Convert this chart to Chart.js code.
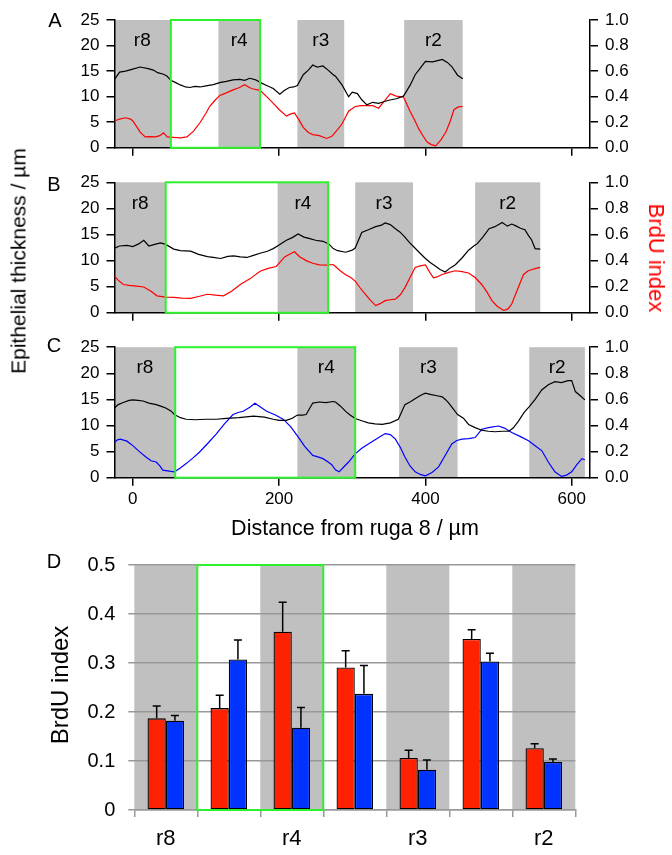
<!DOCTYPE html>
<html>
<head>
<meta charset="utf-8">
<script src="https://cdn.jsdelivr.net/npm/chart.js@4.4.0/dist/chart.umd.min.js"></script>
<style>
  body { margin: 0; background: #fff; }
  #page { position: relative; width: 672px; height: 855px; font-family: 'Liberation Sans', Arial, sans-serif; color: #000; overflow: hidden; }
  canvas { position: absolute; left: 0; }
  .t { position: absolute; white-space: nowrap; line-height: 1; transform: translate(-50%, -50%); }
  .up { transform: translate(-50%, -50%) rotate(-90deg); }
  .down { transform: translate(-50%, -50%) rotate(90deg); }
</style>
</head>
<body>
<div id="page">
  <canvas id="chartA" width="672" height="165" style="top:0px"></canvas>
  <canvas id="chartB" width="672" height="165" style="top:165px"></canvas>
  <canvas id="chartC" width="672" height="180" style="top:330px"></canvas>
  <canvas id="chartD" width="672" height="315" style="top:540px"></canvas>

  <div class="t" style="left:55px; top:20px; font-size:20px">A</div>
  <div class="t" style="left:54px; top:184px; font-size:20px">B</div>
  <div class="t" style="left:54px; top:345px; font-size:20px">C</div>
  <div class="t" style="left:54px; top:561px; font-size:20px">D</div>

  <div class="t up" style="left:18px; top:261px; font-size:21px">Epithelial thickness / µm</div>
  <div class="t down" style="left:656px; top:258px; font-size:22px; color:#ff0000">BrdU index</div>
  <div class="t" style="left:355px; top:529px; font-size:21.5px">Distance from ruga 8 / µm</div>
  <div class="t up" style="left:60px; top:685px; font-size:24px">BrdU index</div>
</div>

<script>
// Ticks do eixo x dos perfis (µm)
const xTicks = [0, 200, 400, 600];
const bandNames = ['r8', 'r4', 'r3', 'r2'];

// Painel A - espessura (preto) e BrdU (vermelho)
const aThickX = [-25, -18, -10, 0, 10, 21, 28, 34, 42, 47, 52, 58, 65, 72, 78, 85, 92, 100, 110, 120, 128, 137, 146, 153, 160, 168, 174, 183, 192, 201, 207, 214, 220, 225, 233, 240, 246, 252, 260, 267, 274, 277, 286, 295, 300, 307, 313, 320, 328, 336, 343, 350, 360, 370, 379, 386, 393, 400, 410, 418, 423, 430, 436, 444, 451];
const aThick = [13.4, 14.8, 15.0, 15.4, 15.8, 15.5, 15.2, 14.7, 14.4, 14.0, 13.2, 12.8, 12.3, 11.9, 11.8, 12.0, 11.9, 12.1, 12.35, 12.8, 13.0, 13.3, 13.4, 13.2, 13.6, 13.3, 12.8, 12.2, 11.6, 10.5, 11.2, 11.8, 11.9, 12.2, 14.3, 15.2, 16.2, 15.8, 16.0, 15.2, 14.3, 14.0, 12.3, 10.0, 10.9, 10.6, 9.4, 8.4, 8.9, 8.7, 9.0, 9.3, 9.6, 10.1, 12.2, 14.3, 15.6, 16.9, 16.8, 17.1, 17.3, 16.7, 15.9, 14.2, 13.5];
const aBrduX = [-25, -18, -10, -3, 0, 6, 10, 17, 24, 31, 37, 42, 47, 55, 65, 74, 83, 92, 100, 105, 112, 119, 128, 137, 145, 153, 160, 165, 174, 183, 192, 200, 210, 216, 221, 227, 233, 240, 246, 255, 265, 272, 277, 286, 295, 304, 312, 320, 328, 336, 345, 352, 360, 370, 379, 385, 391, 397, 402, 408, 414, 421, 428, 434, 439, 445, 451];
const aBrdu = [0.21, 0.225, 0.235, 0.225, 0.21, 0.16, 0.123, 0.085, 0.088, 0.085, 0.095, 0.118, 0.085, 0.082, 0.077, 0.085, 0.13, 0.198, 0.27, 0.323, 0.37, 0.41, 0.43, 0.453, 0.47, 0.494, 0.47, 0.46, 0.45, 0.40, 0.348, 0.30, 0.248, 0.265, 0.273, 0.22, 0.16, 0.12, 0.103, 0.095, 0.073, 0.09, 0.123, 0.186, 0.286, 0.323, 0.33, 0.33, 0.33, 0.31, 0.374, 0.423, 0.405, 0.398, 0.286, 0.22, 0.148, 0.09, 0.047, 0.025, 0.015, 0.06, 0.123, 0.21, 0.298, 0.32, 0.323];
const aBandStart = [-25, 117, 225, 371];
const aBandEnd = [51, 174, 289, 451];
const aGreen = [52, 174];

// Painel B
const bThickX = [-25, -18, -8, 0, 8, 15, 22, 30, 38, 45, 56, 65, 79, 90, 102, 110, 120, 130, 138, 147, 156, 165, 174, 184, 192, 200, 210, 218, 226, 234, 242, 250, 260, 268, 274, 280, 291, 300, 304, 313, 322, 332, 340, 345, 352, 359, 365, 372, 378, 383, 392, 400, 407, 414, 420, 427, 434, 441, 450, 459, 467, 471, 479, 487, 495, 505, 512, 518, 523, 530, 536, 541, 545, 550, 557];
const bThick = [12.4, 12.8, 12.9, 12.7, 13.2, 13.9, 12.8, 13.1, 13.4, 13.1, 12.2, 11.9, 11.8, 11.2, 10.75, 10.6, 10.4, 10.8, 10.9, 10.7, 10.6, 11.0, 11.4, 11.8, 12.3, 13.0, 13.9, 14.4, 15.1, 14.5, 14.2, 13.9, 13.7, 13.2, 12.3, 11.9, 11.6, 12.0, 12.4, 15.4, 15.9, 16.5, 16.8, 17.2, 16.9, 16.1, 15.5, 14.5, 13.5, 12.8, 11.5, 10.4, 9.6, 8.9, 8.3, 7.8, 8.6, 9.2, 10.5, 12.0, 12.9, 13.25, 14.6, 16.1, 16.5, 17.3, 16.6, 17.0, 16.7, 16.2, 15.9, 14.8, 14.0, 12.3, 12.2];
const bBrduX = [-25, -20, -13, -5, 5, 15, 25, 33, 45, 56, 67, 79, 90, 102, 113, 124, 135, 147, 160, 174, 185, 196, 208, 215, 221, 228, 237, 246, 255, 265, 274, 277, 284, 291, 298, 304, 311, 318, 325, 332, 338, 345, 352, 359, 366, 372, 379, 386, 393, 400, 406, 411, 416, 422, 432, 441, 450, 459, 468, 477, 484, 491, 498, 507, 513, 518, 526, 534, 540, 545, 551, 557];
const bBrdu = [0.28, 0.25, 0.217, 0.21, 0.205, 0.198, 0.165, 0.13, 0.12, 0.118, 0.113, 0.11, 0.125, 0.142, 0.135, 0.13, 0.165, 0.217, 0.26, 0.318, 0.34, 0.355, 0.43, 0.45, 0.468, 0.43, 0.40, 0.38, 0.367, 0.365, 0.37, 0.355, 0.32, 0.292, 0.27, 0.243, 0.19, 0.142, 0.095, 0.055, 0.07, 0.093, 0.1, 0.105, 0.14, 0.193, 0.27, 0.348, 0.36, 0.367, 0.31, 0.268, 0.275, 0.292, 0.31, 0.322, 0.315, 0.305, 0.27, 0.217, 0.16, 0.093, 0.05, 0.018, 0.03, 0.067, 0.18, 0.292, 0.32, 0.33, 0.34, 0.348];
const bBandStart = [-25, 198, 304, 468];
const bBandEnd = [45, 267, 383, 557];
const bGreen = [45, 267];

// Painel C - espessura (preto) e BrdU (azul)
const cThickX = [-25, -20, -13, -5, 0, 7, 14, 22, 32, 38, 45, 52, 57, 65, 73, 85, 100, 114, 128, 145, 165, 180, 192, 200, 210, 218, 225, 232, 237, 246, 255, 264, 274, 277, 284, 291, 297, 304, 313, 322, 331, 341, 352, 363, 372, 380, 388, 395, 400, 408, 416, 423, 428, 432, 438, 444, 452, 459, 468, 477, 486, 495, 505, 514, 520, 527, 535, 542, 550, 559, 568, 577, 586, 595, 600, 605, 611, 618];
const cThick = [13.35, 14.0, 14.4, 14.8, 14.9, 14.8, 14.7, 14.3, 14.0, 13.7, 13.35, 12.8, 12.1, 11.5, 11.2, 11.1, 11.2, 11.2, 11.35, 11.5, 11.8, 11.6, 11.2, 11.0, 11.0, 11.4, 12.0, 12.0, 12.1, 14.3, 14.5, 14.4, 14.6, 14.5, 13.7, 12.7, 12.0, 11.35, 10.9, 10.5, 10.3, 10.2, 10.5, 11.2, 14.0, 14.6, 15.3, 15.9, 16.2, 15.9, 15.7, 15.5, 14.9, 14.3, 13.2, 12.1, 11.4, 10.2, 9.6, 9.1, 8.9, 8.8, 8.9, 8.9, 9.5, 10.8, 12.5, 13.6, 15.0, 16.8, 17.8, 18.4, 18.2, 18.6, 18.6, 16.5, 15.8, 14.9];
const cBrduX = [-25, -21, -17, -8, 0, 9, 18, 25, 32, 37, 41, 50, 57, 65, 73, 82, 91, 102, 114, 125, 137, 144, 151, 160, 167, 175, 183, 195, 206, 216, 225, 235, 246, 253, 260, 267, 272, 277, 282, 288, 295, 304, 313, 322, 334, 345, 352, 359, 366, 372, 379, 386, 393, 400, 409, 418, 427, 436, 443, 450, 459, 468, 477, 488, 500, 508, 518, 530, 541, 550, 559, 568, 577, 586, 593, 600, 607, 614, 618];
const cBrdu = [0.27, 0.29, 0.296, 0.28, 0.246, 0.2, 0.158, 0.13, 0.12, 0.09, 0.058, 0.05, 0.045, 0.075, 0.108, 0.15, 0.195, 0.26, 0.334, 0.41, 0.484, 0.5, 0.509, 0.54, 0.571, 0.54, 0.509, 0.48, 0.447, 0.39, 0.321, 0.24, 0.171, 0.16, 0.146, 0.12, 0.1, 0.06, 0.045, 0.08, 0.12, 0.183, 0.225, 0.259, 0.3, 0.338, 0.33, 0.296, 0.23, 0.158, 0.09, 0.045, 0.025, 0.015, 0.04, 0.083, 0.17, 0.259, 0.285, 0.296, 0.3, 0.308, 0.371, 0.385, 0.396, 0.38, 0.346, 0.315, 0.283, 0.245, 0.208, 0.12, 0.045, 0.01, 0.02, 0.045, 0.1, 0.146, 0.138];
const cBandStart = [-25, 225, 364, 542];
const cBandEnd = [58, 304, 444, 618];
const cGreen = [58, 304];

// Painel D - índice BrdU por região
const dLabels = ['r8', '', 'r4', '', 'r3', '', 'r2'];
const dRed = [0.187, 0.208, 0.364, 0.291, 0.106, 0.349, 0.126];
const dRedErr = [0.025, 0.026, 0.06, 0.034, 0.016, 0.019, 0.009];
const dBlue = [0.182, 0.307, 0.168, 0.237, 0.082, 0.303, 0.098];
const dBlueErr = [0.011, 0.04, 0.041, 0.058, 0.02, 0.017, 0.006];
const dGrey = [true, false, true, false, true, false, true];
const dGreen = [1, 2];

Chart.defaults.font.family = "'Liberation Sans', Arial, sans-serif";
Chart.defaults.color = '#000';

const GREY = '#c0c0c0';
const GREEN = '#2ef02e';

// Faixas cinzas das rugas, rótulos e caixa verde
function bandPlugin(cfg) {
    return {
        id: 'bands',
        beforeDraw(chart) {
            const { ctx, chartArea: a, scales: { x } } = chart;
            ctx.save();
            ctx.fillStyle = GREY;
            cfg.bandStart.forEach((s, i) => {
                const x0 = Math.max(x.getPixelForValue(s), a.left);
                const x1 = Math.min(x.getPixelForValue(cfg.bandEnd[i]), a.right);
                ctx.fillRect(x0, a.top, x1 - x0, a.bottom - a.top);
            });
            ctx.fillStyle = '#000';
            ctx.font = "19px 'Liberation Sans', Arial, sans-serif";
            ctx.textAlign = 'center';
            ctx.textBaseline = 'middle';
            cfg.bandStart.forEach((s, i) => {
                const x0 = Math.max(x.getPixelForValue(s), a.left);
                const x1 = Math.min(x.getPixelForValue(cfg.bandEnd[i]), a.right);
                ctx.fillText(bandNames[i], (x0 + x1) / 2, a.top + 21);
            });
            ctx.restore();
        },
        afterDatasetsDraw(chart) {
            const { ctx, chartArea: a, scales: { x } } = chart;
            const x0 = x.getPixelForValue(cfg.green[0]);
            const x1 = x.getPixelForValue(cfg.green[1]);
            ctx.save();
            ctx.strokeStyle = GREEN;
            ctx.lineWidth = 2;
            ctx.strokeRect(x0, a.top, x1 - x0, a.bottom - a.top);
            ctx.restore();
        }
    };
}

function profileChart(id, cfg) {
    const toPoints = (xs, ys) => xs.map((v, i) => ({ x: v, y: ys[i] }));
    return new Chart(document.getElementById(id), {
        type: 'line',
        data: {
            datasets: [
                { data: toPoints(cfg.thickX, cfg.thick), borderColor: '#000', yAxisID: 'y' },
                { data: toPoints(cfg.brduX, cfg.brdu), borderColor: cfg.color, yAxisID: 'y1' }
            ]
        },
        options: {
            responsive: false,
            animation: false,
            layout: { padding: { top: cfg.padTop, left: 0, right: 0, bottom: 0 } },
            elements: { point: { radius: 0 }, line: { borderWidth: 1.2, tension: 0 } },
            plugins: { legend: { display: false }, tooltip: { enabled: false } },
            scales: {
                x: {
                    type: 'linear',
                    min: -25,
                    max: 625,
                    afterBuildTicks(s) { s.ticks = xTicks.map(v => ({ value: v })); },
                    ticks: { display: cfg.showX, font: { size: 17 }, padding: 3, maxRotation: 0 },
                    grid: { drawOnChartArea: false, tickLength: 8, color: '#000', lineWidth: 1.5 },
                    border: { color: '#000', width: 1.5 },
                    afterFit(s) { s.height = cfg.xHeight; }
                },
                y: {
                    position: 'left',
                    min: 0,
                    max: 25,
                    ticks: { stepSize: 5, font: { size: 17 }, padding: 7 },
                    grid: { drawOnChartArea: false, tickLength: 8, color: '#000', lineWidth: 1.5 },
                    border: { color: '#000', width: 1.5 },
                    afterFit(s) { s.width = 114.5; }
                },
                y1: {
                    position: 'right',
                    min: 0,
                    max: 1,
                    ticks: { stepSize: 0.2, font: { size: 17 }, padding: 7, callback: v => v.toFixed(1) },
                    grid: { drawOnChartArea: false, tickLength: 8, color: '#000', lineWidth: 1.5 },
                    border: { color: '#000', width: 1.5 },
                    afterFit(s) { s.width = 82; }
                }
            }
        },
        plugins: [bandPlugin(cfg)]
    });
}

profileChart('chartA', {
    thickX: aThickX, thick: aThick, brduX: aBrduX, brdu: aBrdu, color: '#ff0000',
    bandStart: aBandStart, bandEnd: aBandEnd, green: aGreen,
    padTop: 20, xHeight: 12, showX: false
});
profileChart('chartB', {
    thickX: bThickX, thick: bThick, brduX: bBrduX, brdu: bBrdu, color: '#ff0000',
    bandStart: bBandStart, bandEnd: bBandEnd, green: bGreen,
    padTop: 17.3, xHeight: 14.3, showX: false
});
profileChart('chartC', {
    thickX: cThickX, thick: cThick, brduX: cBrduX, brdu: cBrdu, color: '#0000ff',
    bandStart: cBandStart, bandEnd: cBandEnd, green: cGreen,
    padTop: 14.7, xHeight: 32.3, showX: true
});

// Painel D: faixas, barras de erro e caixa verde
const barPlugin = {
    id: 'barExtras',
    beforeDraw(chart) {
        const { ctx, chartArea: a, scales: { x } } = chart;
        const w = (a.right - a.left) / dLabels.length;
        ctx.save();
        ctx.fillStyle = GREY;
        dGrey.forEach((g, i) => {
            if (g) ctx.fillRect(x.getPixelForValue(i) - w / 2, a.top, w, a.bottom - a.top);
        });
        ctx.restore();
    },
    afterDatasetsDraw(chart) {
        const { ctx, chartArea: a, scales: { x, y } } = chart;
        ctx.save();
        ctx.strokeStyle = '#000';
        ctx.lineWidth = 1.5;
        chart.data.datasets.forEach((ds, di) => {
            const meta = chart.getDatasetMeta(di);
            meta.data.forEach((bar, i) => {
                const yTop = y.getPixelForValue(ds.data[i] + ds.errs[i]);
                ctx.beginPath();
                ctx.moveTo(bar.x, bar.y);
                ctx.lineTo(bar.x, yTop);
                ctx.moveTo(bar.x - 4, yTop);
                ctx.lineTo(bar.x + 4, yTop);
                ctx.stroke();
            });
        });
        const x0 = x.getPixelForValue(dGreen[0] - 0.5);
        const x1 = x.getPixelForValue(dGreen[1] + 0.5);
        ctx.strokeStyle = GREEN;
        ctx.lineWidth = 2;
        ctx.strokeRect(x0, a.top, x1 - x0, a.bottom - a.top);
        ctx.restore();
    }
};

new Chart(document.getElementById('chartD'), {
    type: 'bar',
    data: {
        labels: dLabels,
        datasets: [
            { data: dRed, errs: dRedErr, backgroundColor: '#ff2200' },
            { data: dBlue, errs: dBlueErr, backgroundColor: '#0033ff' }
        ]
    },
    options: {
        responsive: false,
        animation: false,
        layout: { padding: { top: 19.3, right: 96.7, left: 0, bottom: 0 } },
        datasets: {
            bar: { categoryPercentage: 0.58, barPercentage: 1, borderColor: '#000', borderWidth: 1.3, borderSkipped: false }
        },
        plugins: { legend: { display: false }, tooltip: { enabled: false } },
        scales: {
            x: {
                grid: { offset: true, drawOnChartArea: false, tickLength: 7, color: '#999', lineWidth: 1.5 },
                border: { color: '#999', width: 1.5 },
                ticks: { font: { size: 22 }, padding: 9, autoSkip: false, maxRotation: 0 },
                afterFit(s) { s.height = 45; }
            },
            y: {
                min: 0,
                max: 0.5,
                ticks: { stepSize: 0.1, font: { size: 20 }, padding: 13, callback: v => v === 0 ? '0' : v.toFixed(1) },
                grid: { color: '#999', lineWidth: 1.5, tickLength: 6 },
                border: { display: false },
                afterFit(s) { s.width = 134.3; }
            }
        }
    },
    plugins: [barPlugin]
});
</script>
</body>
</html>
